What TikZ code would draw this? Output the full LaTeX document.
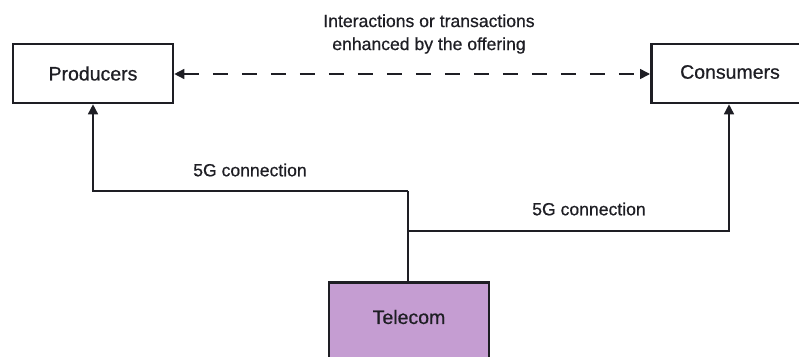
\documentclass[tikz,border=0pt]{standalone}
\usepackage{fontspec}
\setmainfont{Liberation Sans}
% a slightly heavier cut of the sans face for all labels
\newfontfamily\labelfont{Liberation Sans}[FakeBold=0.6]
\usetikzlibrary{arrows.meta}
\definecolor{telecomfill}{HTML}{C59DD2}
\definecolor{ink}{HTML}{1E1E24}
\begin{document}
\begin{tikzpicture}[x=1pt,y=-1pt,
  box/.style={draw=ink,line width=2.6pt,inner sep=0pt,font=\labelfont\fontsize{19.5}{23}\selectfont,text=ink},
  lbl/.style={font=\labelfont\fontsize{17.6}{23}\selectfont,text=ink,inner sep=0pt,align=center},
  big/.style={font=\labelfont\fontsize{19.5}{23}\selectfont},
  link/.style={draw=ink,line width=1.5pt},
  tip/.style={-{Triangle[length=10pt,width=10pt]}}]
\useasboundingbox (0,0) rectangle (799,356);
% parties
\node[box,minimum width=160pt,minimum height=59pt] (prod) at (93,73.5) {Producers};
\node[box,minimum width=170pt,minimum height=59pt,anchor=west] (cons) at (650,73.5) {};
\node[lbl,big] (constext) at (730,72) {Consumers};
\node[box,fill=telecomfill,minimum width=160pt,minimum height=80pt,anchor=north] (tel) at (409,281) {};
\node[lbl,big] (teltext) at (409,317) {Telecom};
% interaction between the parties
\draw[link,dashed,dash pattern=on 15pt off 14pt,{Triangle[length=10pt,width=10pt]}-{Triangle[length=10pt,width=10pt]}]
  (prod.east |- 0,74) -- (cons.west |- 0,74);
\node[lbl] (note) at (429,34) {Interactions or transactions\\enhanced by the offering};
% 5G links from the telecom
\coordinate (split) at (408,231);
\coordinate (top) at (408,191);
\draw[link] (tel.north -| split) -- (top);
\draw[link,tip] (top) -- (93,191) -- (prod.south -| 93,0);
\draw[link,tip] (split) -- (729,231) -- (cons.south -| 729,0);
\node[lbl] (g1) at (250,170) {5G connection};
\node[lbl] (g2) at (589,209) {5G connection};
\end{tikzpicture}
\end{document}
